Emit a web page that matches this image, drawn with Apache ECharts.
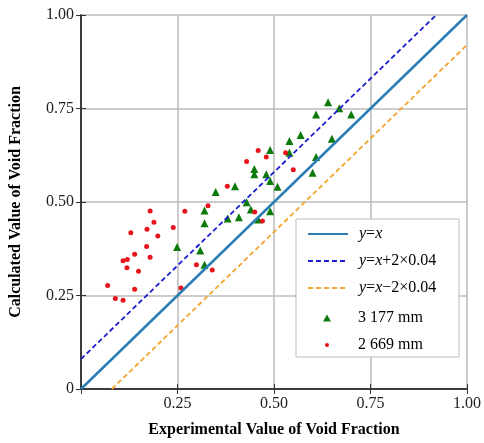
<!DOCTYPE html>
<html>
<head>
<meta charset="utf-8">
<script src="https://cdn.jsdelivr.net/npm/echarts@6/dist/echarts.min.js"></script>
<style>
  html, body { margin: 0; padding: 0; background: #fff; }
  #chart { width: 484px; height: 443px; }
</style>
</head>
<body>
<div id="chart"></div>
<script>
// reference lines (end points)
const lineYX = [[0, 0], [1, 1]];
const lineUpper = [[0, 0.08], [0.92, 1]];
const lineLower = [[0.08, 0], [1, 0.92]];

// 3 177 mm (green triangles)
const greenX = [0.249, 0.309, 0.320, 0.320, 0.320, 0.349, 0.380, 0.409, 0.429, 0.440,
  0.459, 0.399, 0.490, 0.509, 0.449, 0.449, 0.480, 0.490, 0.490, 0.540,
  0.540, 0.569, 0.600, 0.609, 0.609, 0.640, 0.650, 0.669, 0.700];
const greenY = [0.380, 0.370, 0.332, 0.443, 0.477, 0.527, 0.456, 0.459, 0.499, 0.480,
  0.453, 0.542, 0.475, 0.541, 0.588, 0.574, 0.574, 0.556, 0.639, 0.663,
  0.632, 0.679, 0.578, 0.620, 0.734, 0.767, 0.669, 0.751, 0.734];

// 2 669 mm (red dots)
const redX = [0.069, 0.089, 0.109, 0.109, 0.120, 0.119, 0.139, 0.139, 0.149, 0.129,
  0.170, 0.179, 0.171, 0.179, 0.189, 0.199, 0.239, 0.269, 0.259, 0.299,
  0.340, 0.329, 0.450, 0.470, 0.429, 0.379, 0.459, 0.480, 0.530, 0.550];
const redY = [0.277, 0.242, 0.237, 0.343, 0.346, 0.324, 0.360, 0.267, 0.315, 0.418,
  0.381, 0.352, 0.427, 0.476, 0.446, 0.409, 0.432, 0.475, 0.270, 0.332,
  0.318, 0.490, 0.473, 0.449, 0.608, 0.542, 0.638, 0.620, 0.632, 0.586];

const lineNames = ['y=x', 'y=x+2×0.04', 'y=x−2×0.04'];
const pointNames = ['3 177 mm', '2 669 mm'];

const zip = (xs, ys) => xs.map((x, i) => [x, ys[i]]);

const font = 'Liberation Serif, Times New Roman, serif';
const legendRich = {
  i: { fontFamily: font, fontSize: 16, fontStyle: 'italic', color: '#000' },
  r: { fontFamily: font, fontSize: 16, color: '#000' }
};

function lineLabel(name) {
  if (name === 'y=x') return '{i|y}{r|=}{i|x}';
  if (name === 'y=x+2×0.04') return '{i|y}{r|=}{i|x}{r|+2×0.04}';
  return '{i|y}{r|=}{i|x}{r|−2×0.04}';
}

const tickFmt = v => (v === 0 ? '' : v.toFixed(2));
const pointText = { fontFamily: font, fontSize: 16, color: '#000', height: 16, lineHeight: 16 };

const chart = echarts.init(document.getElementById('chart'));
chart.setOption({
  animation: false,
  grid: { left: 80, right: 17, top: 15, bottom: 52 },
  graphic: [{
    type: 'rect',
    z: 3,
    shape: { x: 296, y: 219, width: 163, height: 138 },
    style: { fill: '#fff', stroke: '#bbb', lineWidth: 1 }
  }],
  legend: [{
    data: lineNames,
    orient: 'vertical',
    left: 297,
    top: 219,
    padding: [7, 0, 0, 10],
    itemWidth: 40,
    itemHeight: 16,
    itemGap: 11,
    z: 4,
    itemStyle: { opacity: 0 },
    formatter: lineLabel,
    textStyle: { padding: [0, 0, 0, 6], rich: legendRich }
  }, {
    data: [pointNames[0]],
    orient: 'vertical',
    left: 323,
    top: 310,
    padding: 0,
    itemWidth: 8,
    itemHeight: 7,
    z: 4,
    textStyle: Object.assign({ padding: [0, 0, 0, 22] }, pointText)
  }, {
    data: [pointNames[1]],
    orient: 'vertical',
    left: 325,
    top: 337,
    padding: 0,
    itemWidth: 4,
    itemHeight: 4,
    z: 4,
    textStyle: Object.assign({ padding: [0, 0, 0, 24] }, pointText)
  }],
  xAxis: [{
    type: 'value', min: 0, max: 1, interval: 0.25,
    name: 'Experimental Value of Void Fraction',
    nameLocation: 'middle', nameGap: 33,
    nameTextStyle: { fontFamily: font, fontSize: 16, fontWeight: 'bold', color: '#000' },
    axisLine: { lineStyle: { color: '#333', width: 1.5 } },
    axisTick: { inside: true, length: 5, lineStyle: { color: '#333' } },
    axisLabel: { formatter: tickFmt, fontFamily: font, fontSize: 16, color: '#222', margin: 7 },
    splitLine: { show: true, lineStyle: { color: '#bbb', width: 1.5 } }
  }, {
    type: 'value', min: 0, max: 1, interval: 0.25, position: 'top',
    axisLine: { lineStyle: { color: '#333', width: 1.5 } },
    axisTick: { inside: true, length: 5, lineStyle: { color: '#333' } },
    axisLabel: { show: false },
    splitLine: { show: false }
  }],
  yAxis: [{
    type: 'value', min: 0, max: 1, interval: 0.25,
    name: 'Calculated Value of Void Fraction',
    nameLocation: 'middle', nameGap: 57,
    nameTextStyle: { fontFamily: font, fontSize: 16, fontWeight: 'bold', color: '#000' },
    axisLine: { show: true, lineStyle: { color: '#333', width: 1.5 } },
    axisTick: { show: true, inside: true, length: 5, lineStyle: { color: '#333' } },
    axisLabel: { formatter: v => (v === 0 ? '0' : v.toFixed(2)), fontFamily: font, fontSize: 16, color: '#222', margin: 7 },
    splitLine: { show: true, lineStyle: { color: '#bbb', width: 1.5 } }
  }, {
    type: 'value', min: 0, max: 1, interval: 0.25, position: 'right',
    axisLine: { show: true, lineStyle: { color: '#333', width: 1.5 } },
    axisTick: { show: true, inside: true, length: 5, lineStyle: { color: '#333' } },
    axisLabel: { show: false },
    splitLine: { show: false }
  }],
  series: [{
    name: lineNames[0], type: 'line', data: lineYX, symbol: 'none',
    lineStyle: { color: '#2a7db5', width: 2.5 }, itemStyle: { color: '#2a7db5' }
  }, {
    name: lineNames[1], type: 'line', data: lineUpper, symbol: 'none',
    lineStyle: { color: '#1c1cd0', width: 1.8, type: [5, 3] }, itemStyle: { color: '#1c1cd0' }
  }, {
    name: lineNames[2], type: 'line', data: lineLower, symbol: 'none',
    lineStyle: { color: '#f2a52c', width: 1.8, type: [5, 3] }, itemStyle: { color: '#f2a52c' }
  }, {
    name: pointNames[0], type: 'scatter', data: zip(greenX, greenY),
    symbol: 'triangle', symbolSize: 8, itemStyle: { color: '#0b7a0b', opacity: 1 }
  }, {
    name: pointNames[1], type: 'scatter', data: zip(redX, redY),
    symbol: 'circle', symbolSize: 5, itemStyle: { color: '#e8141c', opacity: 1 }
  }]
});
</script>
</body>
</html>
